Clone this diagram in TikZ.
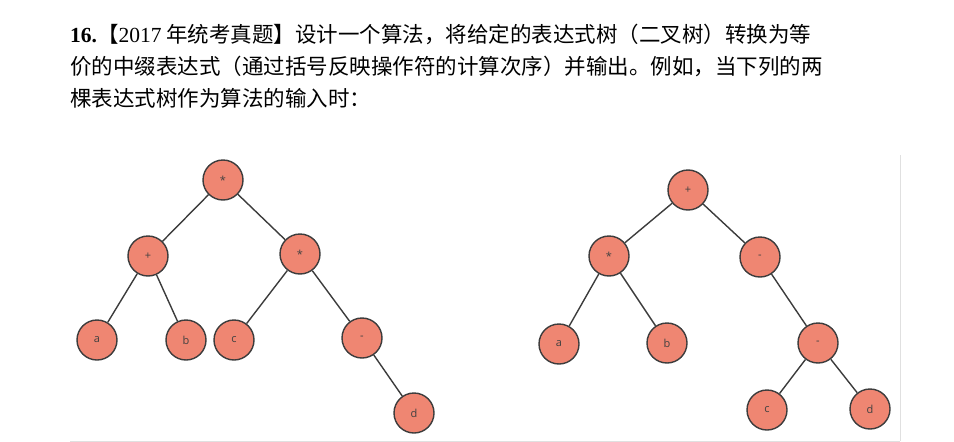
\documentclass[tikz,border=0pt]{standalone}
\usepackage{fontspec}
\setmainfont{Liberation Serif}
\newfontfamily\cjk{Noto Sans CJK SC}
\newfontfamily\lab{Open Sans}
\definecolor{salmon}{HTML}{EF8672}
\definecolor{edgec}{HTML}{3C3C3C}
\begin{document}
\begin{tikzpicture}[x=1pt,y=-1pt,
  tn/.style={circle,draw=edgec,line width=1.4pt,fill=salmon,minimum size=40pt,inner sep=0pt,font=\lab\fontsize{11}{11}\selectfont,text=black!75},
  te/.style={draw=edgec,line width=1.4pt},
  ln/.style={anchor=base west,inner sep=0pt,font=\cjk\fontsize{21.5}{21.5}\selectfont}]
\useasboundingbox (0,0) rectangle (954,442);
\node[ln] (l1) at (70,42) {\textbf{\rmfamily 16.}【\textrm{2017} 年统考真题】设计一个算法，将给定的表达式树（二叉树）转换为等};
\node[ln] (l2) at (70,74) {价的中缀表达式（通过括号反映操作符的计算次序）并输出。例如，当下列的两};
\node[ln] (l3) at (70,106) {棵表达式树作为算法的输入时：};
\draw[black!12,line width=0.8pt] (70,441) -- (900,441);
\draw[black!12,line width=0.8pt] (900,155) -- (900,441);
% left tree
\node[tn] (A) at (223,180) {*};
\node[tn] (B) at (148,256) {+};
\node[tn] (C) at (300,254) {*};
\node[tn] (D) at (97,340) {a};
\node[tn] (E) at (186,340) {b};
\node[tn] (F) at (234,340) {c};
\node[tn] (G) at (362,338) {-};
\node[tn] (H) at (414,413) {d};
\draw[te] (A)--(B) (A)--(C) (B)--(D) (B)--(E) (C)--(F) (C)--(G) (G)--(H);
% right tree
\node[tn] (P) at (688,190) {+};
\node[tn] (Q) at (609,256) {*};
\node[tn] (R) at (760,257) {-};
\node[tn] (S) at (559,344) {a};
\node[tn] (T) at (667,343) {b};
\node[tn] (U) at (818,343) {-};
\node[tn] (V) at (767,410) {c};
\node[tn] (W) at (870,409) {d};
\draw[te] (P)--(Q) (P)--(R) (Q)--(S) (Q)--(T) (R)--(U) (U)--(V) (U)--(W);
\end{tikzpicture}
\end{document}
